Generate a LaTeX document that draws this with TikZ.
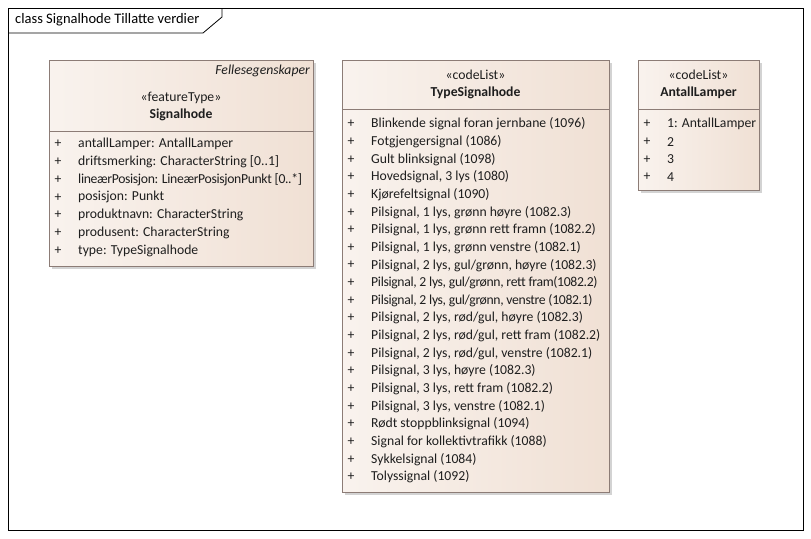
\documentclass[tikz,border=0pt]{standalone}
\usepackage{fontspec}
\setmainfont{Carlito}
\usetikzlibrary{shadows}
\definecolor{bordc}{RGB}{140,124,118}
\definecolor{fillR}{RGB}{240,224,212}
\definecolor{txt}{RGB}{30,30,30}
\newcommand{\tightTxt}[1]{{\addfontfeature{LetterSpace=-2.5}#1}}
\begin{document}
\begin{tikzpicture}[x=1pt,y=-1pt,
  umlbox/.style={draw=bordc, line width=0.8pt, left color=white!60!fillR, right color=fillR,
    drop shadow={shadow xshift=2.5pt, shadow yshift=-2.5pt, opacity=0.35, fill=gray},
    anchor=north west, inner sep=0pt},
  txtstyle/.style={text=txt, font=\fontsize{13.7}{15}\selectfont, inner sep=0pt},
  item/.style={txtstyle, anchor=west},
  plus/.style={txtstyle, anchor=center},
  hdr/.style={txtstyle, anchor=center},
  divline/.style={draw=bordc, line width=0.8pt}
]
\useasboundingbox (0,0) rectangle (811,538);
% frame
\draw[black, line width=0.8pt] (8,8) rectangle (803,530);
\coordinate (t1) at (8,33);
\coordinate (t2) at (203,33);
\coordinate (t3) at (222,17);
\coordinate (t4) at (222,8);
\draw[black, line width=0.8pt] (t1) -- (t2) -- (t3) -- (t4);
\node[txtstyle, anchor=west, text=black, font=\fontsize{14.5}{15}\selectfont] (title) at (15,20) {class Signalhode Tillatte verdier};

% Box 1: Signalhode
\node[umlbox, minimum width=264pt, minimum height=206pt] (b1) at (49,60) {};
\draw[divline] (49,131) -- (313,131);
\node[txtstyle, anchor=east, font=\fontsize{13.7}{15}\selectfont\itshape] (b1f) at (310,71) {Fellesegenskaper};
\node[hdr] (b1s) at (181,98) {«featureType»};
\node[hdr, font=\fontsize{13.7}{15}\selectfont\bfseries] (b1n) at (181,115) {Signalhode};
\foreach \t [count=\i from 0] in {antallLamper: AntallLamper, driftsmerking: CharacterString [0..1], \tightTxt{lineærPosisjon: LineærPosisjonPunkt [0..*]}, posisjon: Punkt, produktnavn: CharacterString, produsent: CharacterString, type: TypeSignalhode}{
  \node[plus] (b1p\i) at (58,144+\i*17.8) {+};
  \node[item] (b1a\i) at (78,144+\i*17.8) {\t};
}

% Box 2: TypeSignalhode
\node[umlbox, minimum width=267pt, minimum height=432pt] (b2) at (342,60) {};
\draw[divline] (342,109) -- (609,109);
\node[hdr] (b2s) at (475.5,75) {«codeList»};
\node[hdr, font=\fontsize{13.7}{15}\selectfont\bfseries] (b2n) at (475.5,93) {TypeSignalhode};
\foreach \t [count=\i from 0] in {Blinkende signal foran jernbane (1096), Fotgjengersignal (1086), Gult blinksignal (1098), {Hovedsignal, 3 lys (1080)}, Kjørefeltsignal (1090), {Pilsignal, 1 lys, grønn høyre (1082.3)}, {Pilsignal, 1 lys, grønn rett framn (1082.2)}, {Pilsignal, 1 lys, grønn venstre (1082.1)}, {Pilsignal, 2 lys, gul/grønn, høyre (1082.3)}, {\tightTxt{Pilsignal, 2 lys, gul/grønn, rett fram(1082.2)}}, {\tightTxt{Pilsignal, 2 lys, gul/grønn, venstre (1082.1)}}, {Pilsignal, 2 lys, rød/gul, høyre (1082.3)}, {Pilsignal, 2 lys, rød/gul, rett fram (1082.2)}, {Pilsignal, 2 lys, rød/gul, venstre (1082.1)}, {Pilsignal, 3 lys, høyre (1082.3)}, {Pilsignal, 3 lys, rett fram (1082.2)}, {Pilsignal, 3 lys, venstre (1082.1)}, Rødt stoppblinksignal (1094), Signal for kollektivtrafikk (1088), Sykkelsignal (1084), Tolyssignal (1092)}{
  \node[plus] (b2p\i) at (351,124+\i*17.65) {+};
  \node[item] (b2a\i) at (371,124+\i*17.65) {\t};
}

% Box 3: AntallLamper
\node[umlbox, minimum width=121pt, minimum height=130pt] (b3) at (638,60) {};
\draw[divline] (638,109) -- (759,109);
\node[hdr] (b3s) at (698.5,75) {«codeList»};
\node[hdr, font=\fontsize{13.7}{15}\selectfont\bfseries] (b3n) at (698.5,93) {AntallLamper};
\foreach \t [count=\i from 0] in {1: AntallLamper, 2, 3, 4}{
  \node[plus] (b3p\i) at (647,124+\i*17.7) {+};
  \node[item] (b3a\i) at (667,124+\i*17.7) {\t};
}
\end{tikzpicture}
\end{document}
